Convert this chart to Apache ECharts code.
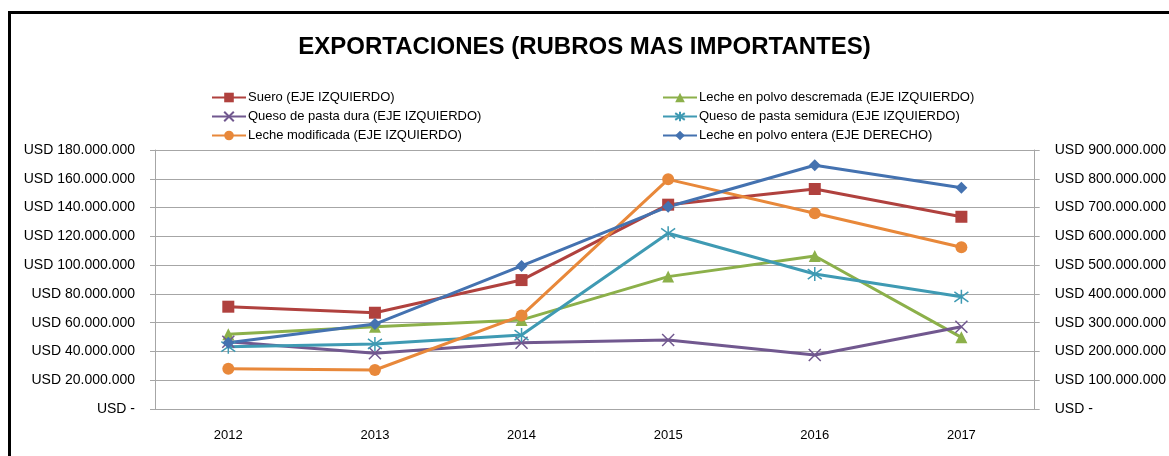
<!DOCTYPE html>
<html>
	<head>
		<meta charset="UTF-8">
		<title>Exportaciones</title>
		<style>
			html, body { margin: 0; padding: 0; background: #fff; }
			#main { width: 1169px; height: 456px; }
		</style>
	</head>
	<body>
		<div id="main"></div>
	</body>
	<script src="https://cdn.jsdelivr.net/npm/echarts@6/dist/echarts.min.js"></script>
	<script type="text/javascript">
		// datos
		var anios = ['2012', '2013', '2014', '2015', '2016', '2017'];
		var suero = [71100000, 66900000, 89600000, 142000000, 152900000, 133600000];
		var lecheDescremada = [51900000, 57200000, 61900000, 92000000, 106300000, 49800000];
		var quesoDura = [46800000, 38700000, 46100000, 48000000, 37500000, 57200000];
		var quesoSemidura = [43300000, 45200000, 51400000, 122100000, 93800000, 78000000];
		var lecheModificada = [28000000, 27100000, 64900000, 159600000, 136000000, 112400000];
		var lecheEntera = [230000000, 295000000, 497000000, 703000000, 847000000, 769000000];

		var fuente = '"Liberation Sans", Arial, sans-serif';
		var gris = '#a6a6a6';

		// formato "USD 180.000.000"
		function usd(v){
			if (v == 0) return 'USD -';
			return 'USD ' + String(v).replace(/\B(?=(\d{3})+(?!\d))/g, '.');
		}

		var cruz = 'path://M0,0L10,10M10,0L0,10';
		var asterisco = 'path://M0,0L10,10M10,0L0,10M5,-2L5,12';

		function serie(nombre, datos, color, simbolo, tam, eje, trazo){
			var s = {
				name: nombre,
				type: 'line',
				data: datos,
				yAxisIndex: eje,
				symbol: simbolo,
				symbolSize: tam,
				showAllSymbol: true,
				lineStyle: { color: color, width: 3 },
				itemStyle: { color: color },
				z: 3
			};
			if (trazo) {
				s.itemStyle = { color: 'rgba(0,0,0,0)', borderColor: color, borderWidth: 1.5 };
			}
			return s;
		}

		var leyenda = {
			orient: 'vertical',
			top: 86,
			itemWidth: 34,
			itemHeight: 12,
			itemGap: 6,
			textStyle: { fontSize: 13, color: '#000', padding: [0, 0, 0, -3] }
		};

		var vChart = echarts.init(document.getElementById('main'));
		var option = {
			animation: false,
			backgroundColor: '#fff',
			textStyle: { fontFamily: fuente },
			title: {
				text: 'EXPORTACIONES (RUBROS MAS IMPORTANTES)',
				left: 'center',
				top: 30,
				textStyle: { fontSize: 24, fontWeight: 'bold', color: '#000', fontFamily: fuente }
			},
			graphic: [{
				type: 'rect',
				shape: { x: 9.5, y: 12.5, width: 1200, height: 500 },
				style: { fill: 'none', stroke: '#000', lineWidth: 3 }
			}],
			legend: [
				Object.assign({}, leyenda, {
					left: 206,
					data: ['Suero (EJE IZQUIERDO)', 'Queso de pasta dura (EJE IZQUIERDO)', 'Leche modificada (EJE IZQUIERDO)']
				}),
				Object.assign({}, leyenda, {
					left: 657,
					data: ['Leche en polvo descremada (EJE IZQUIERDO)', 'Queso de pasta semidura (EJE IZQUIERDO)', 'Leche en polvo entera (EJE DERECHO)']
				})
			],
			grid: { left: 155, right: 132, top: 150, bottom: 47 },
			xAxis: {
				type: 'category',
				data: anios,
				boundaryGap: true,
				axisLine: { lineStyle: { color: gris } },
				axisTick: { length: 5, lineStyle: { color: gris } },
				axisLabel: { fontSize: 13, color: '#000', margin: 20 }
			},
			yAxis: [{
				type: 'value',
				min: 0,
				max: 180000000,
				interval: 20000000,
				axisLine: { show: true, lineStyle: { color: gris } },
				axisTick: { show: true, length: 5, lineStyle: { color: gris } },
				axisLabel: { fontSize: 14, color: '#000', margin: 20, formatter: usd },
				splitLine: { lineStyle: { color: gris } }
			}, {
				type: 'value',
				min: 0,
				max: 900000000,
				interval: 100000000,
				axisLine: { show: true, lineStyle: { color: gris } },
				axisTick: { show: true, length: 5, lineStyle: { color: gris } },
				axisLabel: { fontSize: 14, color: '#000', margin: 20, formatter: usd },
				splitLine: { show: false }
			}],
			series: [
				serie('Suero (EJE IZQUIERDO)', suero, '#b0413e', 'rect', 12, 0),
				serie('Leche en polvo descremada (EJE IZQUIERDO)', lecheDescremada, '#8cb04a', 'triangle', 12, 0),
				serie('Queso de pasta dura (EJE IZQUIERDO)', quesoDura, '#71588f', cruz, 12, 0, true),
				serie('Queso de pasta semidura (EJE IZQUIERDO)', quesoSemidura, '#3f9ab3', asterisco, 14, 0, true),
				serie('Leche modificada (EJE IZQUIERDO)', lecheModificada, '#e8883a', 'circle', 12, 0),
				serie('Leche en polvo entera (EJE DERECHO)', lecheEntera, '#4472b0', 'diamond', 12, 1)
			]
		};
		vChart.setOption(option);
	</script>
</html>
